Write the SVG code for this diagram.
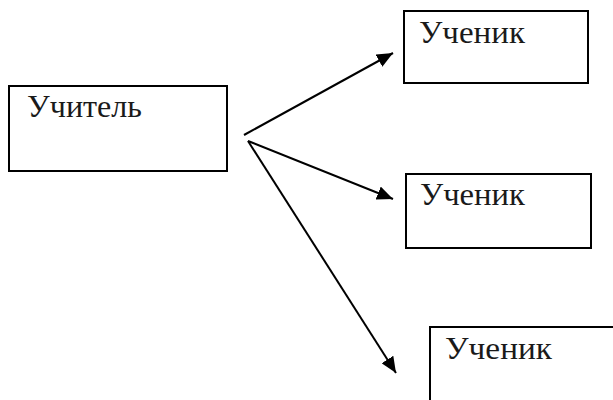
<svg xmlns="http://www.w3.org/2000/svg" width="613" height="400" viewBox="0 0 613 400">
<style>
.box{fill:#fff;stroke:#000;stroke-width:2}
.lbl{font-family:"Liberation Serif","DejaVu Serif",serif;font-size:31px;fill:#1a1a1a}
.conn{stroke:#000;stroke-width:2;fill:none}
</style>
<defs>
<marker id="ah" markerUnits="userSpaceOnUse" markerWidth="18" markerHeight="14" refX="16" refY="7" orient="auto">
<path d="M0,0 L16,7 L0,14 Z" fill="#000"/>
</marker>
</defs>
<rect width="613" height="400" fill="#fff"/>
<g id="teacher">
<rect class="box" x="9" y="86" width="218" height="85"/>
<text class="lbl" x="27" y="117" textLength="115" lengthAdjust="spacingAndGlyphs">Учитель</text>
</g>
<g id="student1">
<rect class="box" x="404" y="11" width="184" height="72"/>
<text class="lbl" x="419" y="42.5" textLength="106" lengthAdjust="spacingAndGlyphs">Ученик</text>
</g>
<g id="student2">
<rect class="box" x="406" y="174" width="185" height="74"/>
<text class="lbl" x="420" y="205" textLength="105" lengthAdjust="spacingAndGlyphs">Ученик</text>
</g>
<g id="student3">
<rect class="box" x="430" y="327" width="200" height="100"/>
<text class="lbl" x="445" y="359" textLength="107" lengthAdjust="spacingAndGlyphs">Ученик</text>
</g>
<g id="connectors">
<path class="conn" d="M244,135 L393,53" marker-end="url(#ah)"/>
<path class="conn" d="M248,141 L393,199" marker-end="url(#ah)"/>
<path class="conn" d="M248,141 L396,373" marker-end="url(#ah)"/>
</g>
</svg>
